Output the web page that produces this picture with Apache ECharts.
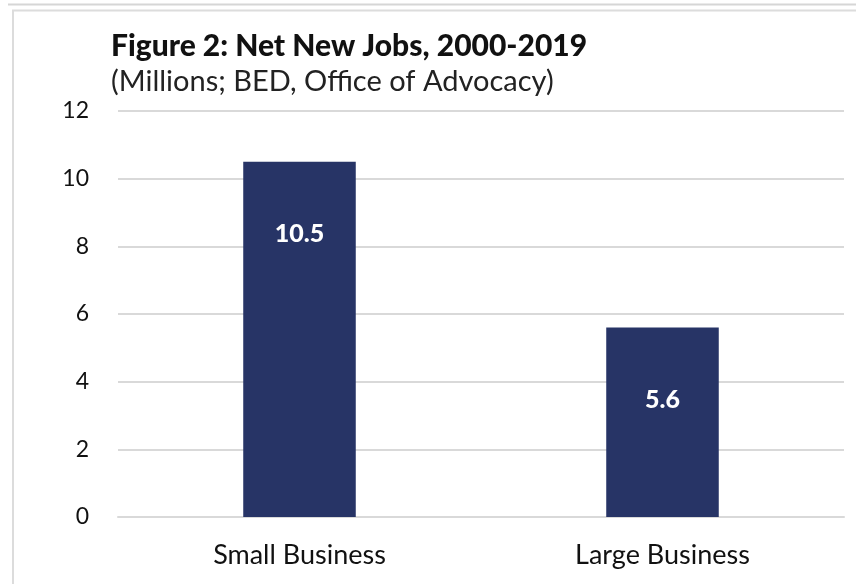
<!DOCTYPE html>
<html>
<head>
<meta charset="utf-8">
<script src="https://cdn.jsdelivr.net/npm/echarts@6/dist/echarts.min.js"></script>
<style>
html,body{margin:0;padding:0;background:#fff;}
#chart{width:856px;height:584px;}
</style>
</head>
<body>
<div id="chart"></div>
<script>
// Net new jobs by firm size, 2000-2019 (millions)
const categories = ['Small Business', 'Large Business'];
const jobs = [10.5, 5.6];
const yTicks = [0, 2, 4, 6, 8, 10, 12];

const FONT = 'Lato, "Noto Sans", sans-serif';
const chart = echarts.init(document.getElementById('chart'), null, {renderer: 'canvas'});

chart.setOption({
  backgroundColor: '#ffffff',
  animation: false,
  title: [
    {
      text: 'Figure 2: Net New Jobs, 2000-2019',
      left: 106, top: 26,
      textStyle: {fontFamily: FONT, fontWeight: 900, fontSize: 30, color: '#111'}
    },
    {
      text: '(Millions; BED, Office of Advocacy)',
      left: 106, top: 62,
      textStyle: {fontFamily: FONT, fontWeight: 'normal', fontSize: 29, color: '#222'}
    }
  ],
  graphic: [
    {type: 'line', shape: {x1: 8, y1: 4.5, x2: 856, y2: 4.5}, style: {stroke: '#d6d6d6', lineWidth: 2}},
    {type: 'line', shape: {x1: 12, y1: 10.5, x2: 856, y2: 10.5}, style: {stroke: '#dcdcdc', lineWidth: 2}},
    {type: 'line', shape: {x1: 13, y1: 10, x2: 13, y2: 584}, style: {stroke: '#dcdcdc', lineWidth: 2}}
  ],
  grid: {left: 118, right: 12, top: 111, bottom: 67, containLabel: false},
  xAxis: {
    type: 'category',
    data: categories,
    axisLine: {show: true, lineStyle: {color: '#d9d9d9', width: 2}},
    axisTick: {show: false},
    axisLabel: {fontFamily: FONT, fontSize: 27, color: '#111', margin: 25}
  },
  yAxis: {
    type: 'value',
    min: yTicks[0],
    max: yTicks[yTicks.length - 1],
    interval: yTicks[1] - yTicks[0],
    axisLine: {show: false},
    axisTick: {show: false},
    splitLine: {lineStyle: {color: '#d9d9d9', width: 2}},
    axisLabel: {fontFamily: FONT, fontSize: 23, color: '#111', margin: 29}
  },
  series: [{
    type: 'bar',
    data: jobs,
    barWidth: '31%',
    itemStyle: {color: '#273466'},
    label: {
      show: true,
      position: 'insideTop',
      distance: 60,
      fontFamily: FONT,
      fontWeight: 900,
      fontSize: 25,
      color: '#ffffff',
      formatter: p => p.value.toFixed(1)
    }
  }]
});
</script>
</body>
</html>
